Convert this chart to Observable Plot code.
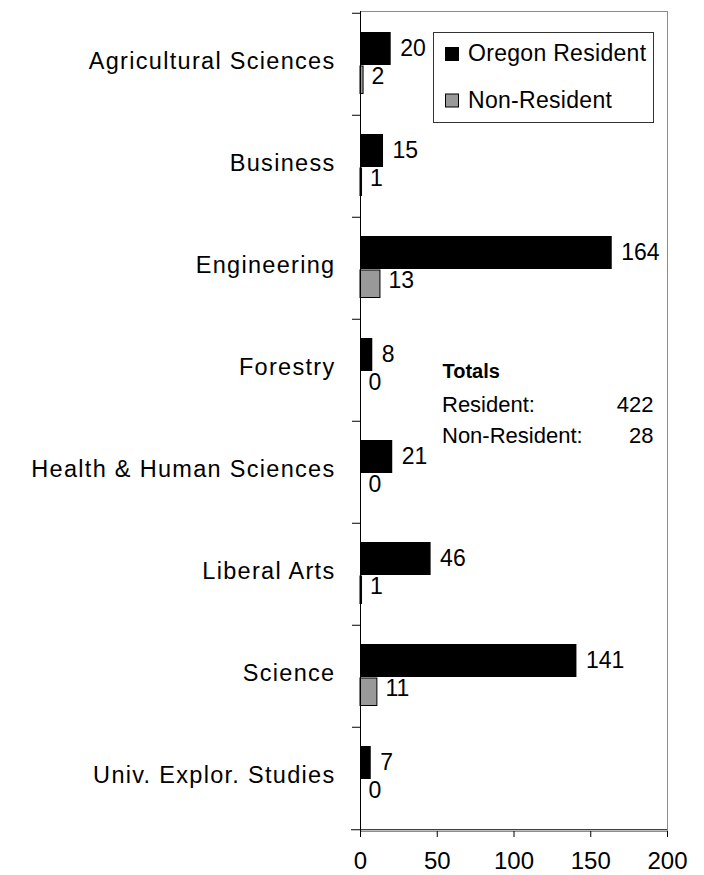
<!DOCTYPE html>
<html><head><meta charset="utf-8">
<script src="https://cdn.jsdelivr.net/npm/d3@7"></script>
<script src="https://cdn.jsdelivr.net/npm/@observablehq/plot@0.6"></script>
<style>body{margin:0;background:#fff} #chart{width:704px;height:875px}</style>
</head><body><div id="chart"></div>
<script>
const categories = ["Agricultural Sciences","Business","Engineering","Forestry","Health & Human Sciences","Liberal Arts","Science","Univ. Explor. Studies"];
const resident = [20,15,164,8,21,46,141,7];
const nonResident = [2,1,13,0,0,1,11,0];
const seriesNames = ["Oregon Resident","Non-Resident"];
const xTicks = [0,50,100,150,200];
const totalsTitle = "Totals";
const totalsLabels = ["Resident:","Non-Resident:"];

const W=704,H=875,mTop=11,mBottom=44,mLeft=360,mRight=37;
const band=(H-mTop-mBottom)/categories.length;
const rows=categories.map((c,i)=>({category:c,resident:resident[i],nonResident:nonResident[i]}));
const font='"Liberation Sans", Arial, Helvetica, sans-serif';

const plot=Plot.plot({
  width:W,height:H,marginTop:mTop,marginBottom:mBottom,marginLeft:mLeft,marginRight:mRight,
  style:{fontFamily:font,background:"white",color:"black"},
  x:{domain:[0,200],label:null},
  y:{domain:categories,padding:0,axis:null,label:null},
  marks:[
    Plot.frame({stroke:"#8c8c8c"}),
    Plot.barX(rows,{y:"category",x:"resident",fill:"black",insetTop:19,insetBottom:band-52.5}),
    Plot.barX(rows,{y:"category",x:"nonResident",fill:"#999999",stroke:"black",strokeWidth:1,insetTop:53,insetBottom:band-81}),
    Plot.text(rows,{y:"category",x:"resident",text:d=>String(d.resident),textAnchor:"start",dx:9,dy:-15.5,fontSize:23,fill:"black"}),
    Plot.text(rows,{y:"category",x:"nonResident",text:d=>String(d.nonResident),textAnchor:"start",dx:8,dy:12.5,fontSize:23,fill:"black"}),
    Plot.text(categories,{y:d=>d,frameAnchor:"left",textAnchor:"end",dx:-25,dy:-3,fontSize:23.5,fill:"black"}),
    Plot.ruleX([0],{stroke:"black"}),
    Plot.ruleY(categories,{y:d=>d,x1:0,x2:0,insetLeft:-8,dy:-band/2,stroke:"black"}),
    Plot.ruleY([categories[categories.length-1]],{y:d=>d,dy:band/2,insetLeft:-9,stroke:"black"}),
    Plot.axisX({ticks:xTicks,tickSize:6,tickPadding:14,fontSize:24,stroke:"black"})
  ]
});
document.getElementById("chart").append(plot);
const svg=d3.select(plot);
svg.selectAll("text").filter(function(){return categories.includes(this.textContent);}).attr("letter-spacing",1.3);

// legend
const lg=svg.append("g").attr("font-family",font).attr("text-anchor","start");
lg.append("rect").attr("x",433.5).attr("y",32.5).attr("width",220).attr("height",90).attr("fill","white").attr("stroke","#333");
const swFill=["black","#999999"];
seriesNames.forEach((s,i)=>{
  lg.append("rect").attr("x",445.5).attr("y",47.5+i*46.5).attr("width",13).attr("height",13).attr("fill",swFill[i]).attr("stroke","black");
  lg.append("text").attr("x",468).attr("y",61+i*46.5).attr("font-size",23).attr("letter-spacing",0.3).attr("text-anchor","start").attr("fill","black").text(s);
});

// totals
const tg=svg.append("g").attr("font-family",font).attr("fill","black").attr("text-anchor","start");
tg.append("text").attr("x",442.5).attr("y",377.5).attr("font-size",20).attr("font-weight","bold").attr("text-anchor","start").text(totalsTitle);
const totals=[d3.sum(resident),d3.sum(nonResident)];
totalsLabels.forEach((l,i)=>{
  tg.append("text").attr("x",442).attr("y",411.5+i*31.8).attr("font-size",22).attr("text-anchor","start").text(l);
  tg.append("text").attr("x",653.5).attr("y",411.5+i*31.8).attr("font-size",22).attr("text-anchor","end").text(String(totals[i]));
});
</script></body></html>
